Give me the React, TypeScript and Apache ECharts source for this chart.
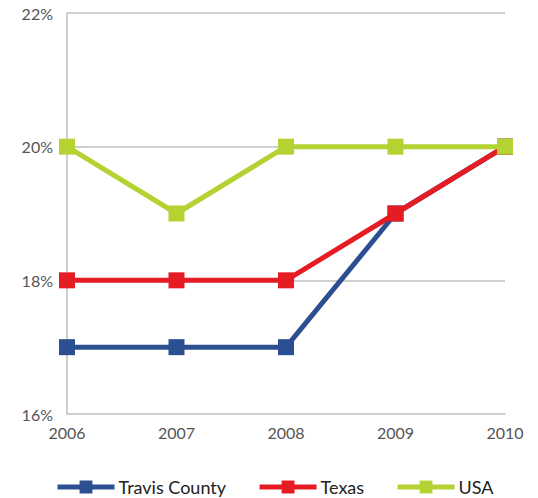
import React, { useEffect, useRef } from "react";
import * as echarts from "echarts";

const years = ["2006", "2007", "2008", "2009", "2010"];
const travisCounty = [17, 17, 17, 19, 20];
const texas = [18, 18, 18, 19, 20];
const usa = [20, 19, 20, 20, 20];
const seriesNames = ["Travis County", "Texas", "USA"];
const seriesColors = ["#2c4f91", "#e51c23", "#b4d232"];

export default function App() {
  const ref = useRef<HTMLDivElement>(null);
  useEffect(() => {
    if (!ref.current) return;
    const chart = echarts.init(ref.current, null, { renderer: "svg" });
    const dataSets = [travisCounty, texas, usa];
    chart.setOption({
      animation: false,
      backgroundColor: "#ffffff",
      textStyle: { fontFamily: "Lato" },
      grid: { left: 67, right: 33, top: 13, bottom: 84, containLabel: false },
      legend: {
        bottom: 2,
        left: 55,
        padding: 0,
        itemWidth: 57,
        itemHeight: 16,
        itemGap: 31,
        lineStyle: { width: 5 },
        textStyle: { fontSize: 18, color: "#222", fontFamily: "Lato", padding: [0, 0, 0, -1] },
        data: seriesNames,
      },
      xAxis: {
        type: "category",
        data: years,
        boundaryGap: false,
        axisLine: { show: true, lineStyle: { color: "#cfcfcf", width: 2 } },
        axisTick: { show: false },
        axisLabel: { color: "#555", fontSize: 16, margin: 10 },
      },
      yAxis: {
        type: "value",
        min: 16,
        max: 22,
        interval: 2,
        axisLine: { show: true, lineStyle: { color: "#cfcfcf", width: 2 } },
        axisTick: { show: false },
        axisLabel: { color: "#555", fontSize: 16, margin: 14, formatter: "{value}%" },
        splitLine: { show: true, lineStyle: { color: "#cfcfcf", width: 2 } },
      },
      series: seriesNames.map((name, i) => ({
        name,
        type: "line",
        data: dataSets[i],
        symbol: "rect",
        symbolSize: 16,
        showAllSymbol: true,
        color: seriesColors[i],
        itemStyle: { color: seriesColors[i] },
        lineStyle: { color: seriesColors[i], width: 5 },
      })),
    });
    return () => chart.dispose();
  }, []);
  return (
    <div
      ref={ref}
      style={{ position: "fixed", left: 0, top: 0, width: 538, height: 498 }}
    />
  );
}
